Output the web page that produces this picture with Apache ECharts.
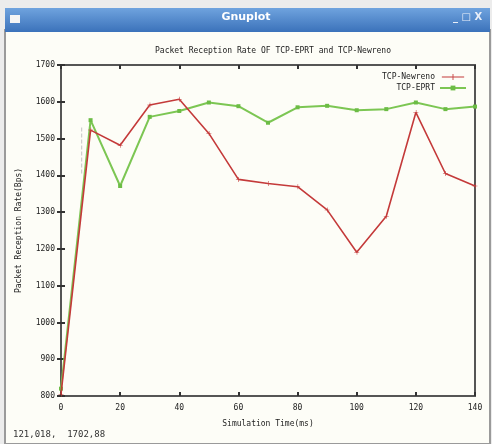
<!DOCTYPE html>
<html>
<head>
<meta charset="utf-8">
<script src="https://cdn.jsdelivr.net/npm/echarts@6/dist/echarts.min.js"></script>
<style>
  html, body { margin: 0; padding: 0; background: #ececec; }
  #chart { width: 492px; height: 444px; }
</style>
</head>
<body>
<div id="chart"></div>
<script>
var timeMs = [0, 10, 20, 30, 40, 50, 60, 70, 80, 90, 100, 110, 120, 130, 140];
var newreno = [805, 1523, 1482, 1591, 1607, 1514, 1389, 1378, 1369, 1306, 1191, 1289, 1571, 1405, 1371];
var eprt = [820, 1550, 1371, 1559, 1575, 1598, 1588, 1543, 1585, 1589, 1577, 1580, 1598, 1580, 1587];
var cursorLine = [[7, 1530], [7, 1402]];
var yTicks = [800, 900, 1000, 1100, 1200, 1300, 1400, 1500, 1600, 1700];

var mono = 'DejaVu Sans Mono';
var chart = echarts.init(document.getElementById('chart'));

function pairs(xs, ys) {
    return xs.map(function (x, i) { return [x, ys[i]]; });
}

var option = {
    animation: false,
    backgroundColor: '#ececec',
    graphic: [
        // window body
        { type: 'rect', z: -10, shape: { x: 5, y: 30, width: 485, height: 414 },
          style: { fill: '#fdfdf7', stroke: '#9a9a9a', lineWidth: 2 } },
        // title bar
        { type: 'rect', z: -5, shape: { x: 5, y: 8, width: 485, height: 24 },
          style: { fill: new echarts.graphic.LinearGradient(0, 0, 0, 1, [
              { offset: 0, color: '#6fa3de' }, { offset: 1, color: '#3b72ba' }]) } },
        { type: 'rect', z: -4, shape: { x: 10, y: 15, width: 10, height: 8 },
          style: { fill: '#f4f4f4' } },
        { type: 'text', z: -4, left: 'center', top: 12,
          style: { text: 'Gnuplot', fill: '#ffffff', font: 'bold 11px "DejaVu Sans"' } },
        { type: 'text', z: -4, left: 453, top: 12,
          style: { text: '_ \u25a1 X', fill: '#e8eef8', font: 'bold 10px "DejaVu Sans"' } },
        // status line
        { type: 'text', left: 13, top: 430,
          style: { text: '121,018,  1702,88', fill: '#333', font: '9px ' + mono } }
    ],
    title: {
        text: 'Packet Reception Rate OF TCP-EPRT and TCP-Newreno',
        left: 268, top: 42, textAlign: 'center',
        textStyle: { fontFamily: mono, fontSize: 8, fontWeight: 'normal', color: '#222' }
    },
    legend: {
        orient: 'vertical',
        right: 20, top: 68,
        align: 'right',
        itemWidth: 26, itemHeight: 6, itemGap: 3,
        textStyle: { fontFamily: mono, fontSize: 8, color: '#222' },
        data: [
            { name: 'TCP-Newreno', icon: 'path://M0,3L26,3L26,4L0,4Z M12.5,0L13.5,0L13.5,7L12.5,7Z' },
            { name: 'TCP-EPRT' }
        ]
    },
    grid: {
        left: 61, right: 17, top: 65, bottom: 48,
        show: true, borderColor: '#555', borderWidth: 2, backgroundColor: 'transparent'
    },
    xAxis: [{
        type: 'value', min: 0, max: 140, interval: 20,
        name: 'Simulation Time(ms)', nameLocation: 'middle', nameGap: 24,
        nameTextStyle: { fontFamily: mono, fontSize: 8, color: '#222' },
        axisLine: { show: false },
        axisTick: { inside: true, length: 4, lineStyle: { color: '#333', width: 2 } },
        axisLabel: { fontFamily: mono, fontSize: 8, color: '#222', margin: 8 },
        splitLine: { show: false }
    }, {
        type: 'value', min: 0, max: 140, interval: 20, position: 'top',
        axisLine: { show: false },
        axisTick: { inside: true, length: 4, lineStyle: { color: '#333', width: 2 } },
        axisLabel: { show: false }, splitLine: { show: false }
    }],
    yAxis: [{
        type: 'value', min: 800, max: 1700, interval: 100,
        name: 'Packet Reception Rate(Bps)', nameLocation: 'middle', nameGap: 38,
        nameTextStyle: { fontFamily: mono, fontSize: 8, color: '#222' },
        axisLine: { show: false },
        axisTick: { inside: true, length: 4, lineStyle: { color: '#333', width: 2 } },
        axisLabel: { fontFamily: mono, fontSize: 8, color: '#222', margin: 6,
            formatter: function (v) { return yTicks.indexOf(v) >= 0 ? String(v) : ''; } },
        splitLine: { show: false }
    }, {
        type: 'value', min: 800, max: 1700, interval: 100, position: 'right',
        axisLine: { show: false },
        axisTick: { inside: true, length: 4, lineStyle: { color: '#333', width: 2 } },
        axisLabel: { show: false }, splitLine: { show: false }
    }],
    series: [{
        name: 'TCP-Newreno', type: 'line',
        data: pairs(timeMs, newreno),
        color: '#c43a3a',
        lineStyle: { width: 1.6, color: '#c43a3a' },
        symbol: 'path://M0,4.5L9,4.5L9,5.5L0,5.5Z M4.5,0L5.5,0L5.5,10L4.5,10Z',
        symbolSize: 5,
        itemStyle: { color: '#c43a3a' },
        z: 3
    }, {
        name: 'TCP-EPRT', type: 'line',
        data: pairs(timeMs, eprt),
        color: '#7cc653',
        lineStyle: { width: 2, color: '#7cc653' },
        symbol: 'rect', symbolSize: 4,
        itemStyle: { color: '#6cbc45' },
        z: 2
    }, {
        name: 'cursor', type: 'line',
        data: cursorLine,
        symbol: 'none',
        lineStyle: { width: 1, color: '#c4c4c4', type: 'dashed' },
        z: 1
    }]
};

chart.setOption(option);
</script>
</body>
</html>
